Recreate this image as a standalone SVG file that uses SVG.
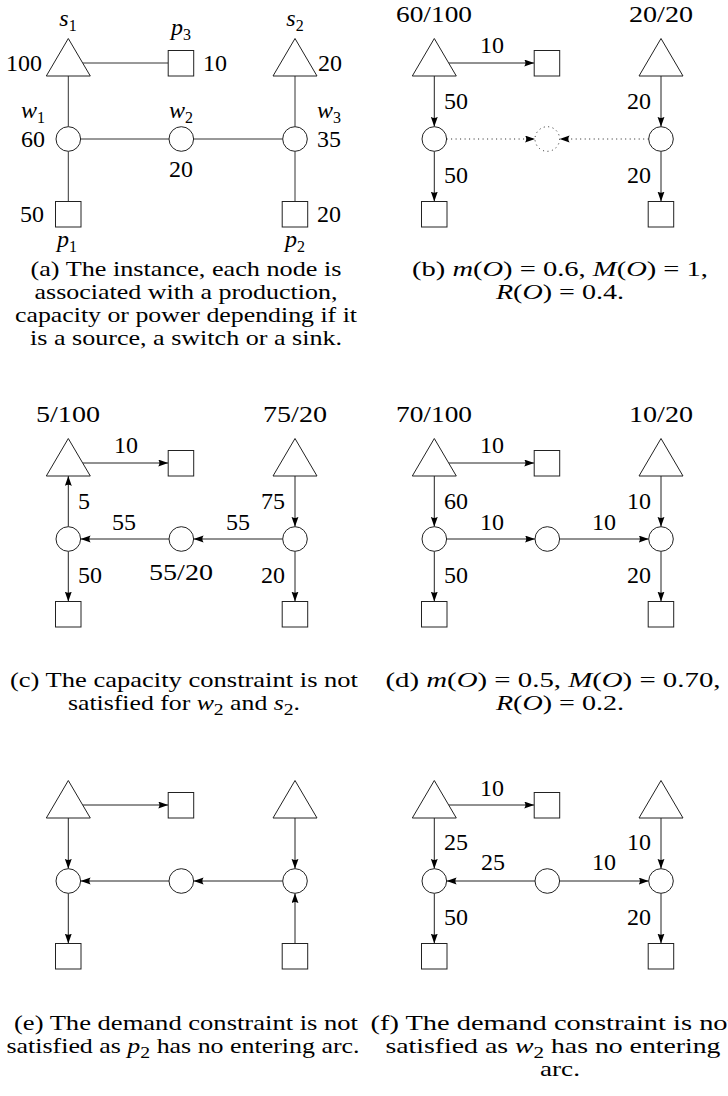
<svg xmlns="http://www.w3.org/2000/svg" width="728" height="1096" viewBox="0 0 728 1096">
<defs>
<marker id="ah" markerUnits="userSpaceOnUse" markerWidth="11" markerHeight="8" refX="10" refY="3.5" orient="auto">
<path d="M0,0 L10,3.5 L0,7 Q2.5,3.5 0,0 z" fill="#000"/>
</marker>
<style>
.n{fill:#fff;stroke:#222;stroke-width:1}
.e{stroke:#333;stroke-width:1;fill:none}
.a{stroke:#222;stroke-width:1;fill:none;marker-end:url(#ah)}
.d{stroke-dasharray:1 3.5}
text{font-family:"Liberation Serif","Times New Roman",serif;fill:#000}
.l{font-size:24px}
.c{font-size:21px;text-anchor:middle}
.m{text-anchor:middle}
.r{text-anchor:end}
.i{font-style:italic}
.s{font-size:16px;font-style:normal}
</style>
</defs>
<rect width="728" height="1096" fill="#fff"/>

<!-- (a) -->
<g id="panel-a">
<g id="a-edges">
<path class="e" d="M82.7,63 H168.2"/>
<path class="e" d="M68.3,76 V126.7"/>
<path class="e" d="M68.3,151.3 V201.5"/>
<path class="e" d="M80.6,139 H169"/>
<path class="e" d="M193.6,139 H282.7"/>
<path class="e" d="M295,76 V126.7"/>
<path class="e" d="M295,151.3 V201.5"/>
</g>
<g id="a-s1"><polygon class="n" points="46.3,76 68.3,38.5 90.3,76"/><text class="l i m" x="68" y="26">s<tspan class="s" dy="5">1</tspan></text><text class="l r" x="42" y="71">100</text></g>
<g id="a-s2"><polygon class="n" points="273,76 295,38.5 317,76"/><text class="l i m" x="295" y="26">s<tspan class="s" dy="5">2</tspan></text><text class="l" x="318" y="71">20</text></g>
<g id="a-p3"><rect class="n" x="168.2" y="50.5" width="25.5" height="25.5"/><text class="l i m" x="181" y="35">p<tspan class="s" dy="5">3</tspan></text><text class="l" x="203" y="71">10</text></g>
<g id="a-w1"><circle class="n" cx="68.3" cy="139" r="12.3"/><text class="l i m" x="33" y="118">w<tspan class="s" dy="5">1</tspan></text><text class="l r" x="45" y="147">60</text></g>
<g id="a-w2"><circle class="n" cx="181.3" cy="139" r="12.3"/><text class="l i m" x="181" y="118">w<tspan class="s" dy="5">2</tspan></text><text class="l m" x="181" y="177">20</text></g>
<g id="a-w3"><circle class="n" cx="295" cy="139" r="12.3"/><text class="l i m" x="329" y="118">w<tspan class="s" dy="5">3</tspan></text><text class="l" x="317" y="147">35</text></g>
<g id="a-p1"><rect class="n" x="55.5" y="201.5" width="25.5" height="25.5"/><text class="l r" x="44" y="222">50</text><text class="l i m" x="67" y="247">p<tspan class="s" dy="5">1</tspan></text></g>
<g id="a-p2"><rect class="n" x="282.2" y="201.5" width="25.5" height="25.5"/><text class="l" x="317" y="222">20</text><text class="l i m" x="295" y="247">p<tspan class="s" dy="5">2</tspan></text></g>
<g id="a-caption">
<text class="c" x="186" y="276" textLength="311" lengthAdjust="spacingAndGlyphs">(a) The instance, each node is</text>
<text class="c" x="186" y="299" textLength="303" lengthAdjust="spacingAndGlyphs">associated with a production,</text>
<text class="c" x="186" y="322" textLength="342" lengthAdjust="spacingAndGlyphs">capacity or power depending if it</text>
<text class="c" x="186" y="345" textLength="312" lengthAdjust="spacingAndGlyphs">is a source, a switch or a sink.</text>
</g>
</g>

<!-- (b) -->
<g id="panel-b" transform="translate(366,0)">
<g id="b-edges">
<path class="a" d="M82.7,63 H168.2"/>
<path class="a" d="M68.3,76 V126.7"/>
<path class="a" d="M68.3,151.3 V201.5"/>
<path class="a d" d="M80.6,139 H169"/>
<path class="a d" d="M282.7,139 H193.6"/>
<path class="a" d="M295,76 V126.7"/>
<path class="a" d="M295,151.3 V201.5"/>
<text class="l m" x="126" y="53">10</text>
<text class="l" x="78" y="109">50</text>
<text class="l" x="78" y="183">50</text>
<text class="l r" x="285" y="109">20</text>
<text class="l r" x="285" y="183">20</text>
</g>
<g id="b-s1"><polygon class="n" points="46.3,76 68.3,38.5 90.3,76"/><text class="l m" x="68" y="21.5" textLength="76" lengthAdjust="spacingAndGlyphs">60/100</text></g>
<g id="b-s2"><polygon class="n" points="273,76 295,38.5 317,76"/><text class="l m" x="295" y="21.5" textLength="64" lengthAdjust="spacingAndGlyphs">20/20</text></g>
<g id="b-p3"><rect class="n" x="168.2" y="50.5" width="25.5" height="25.5"/></g>
<g id="b-w1"><circle class="n" cx="68.3" cy="139" r="12.3"/></g>
<g id="b-w2"><circle class="n d" cx="181.3" cy="139" r="12.3"/></g>
<g id="b-w3"><circle class="n" cx="295" cy="139" r="12.3"/></g>
<g id="b-p1"><rect class="n" x="55.5" y="201.5" width="25.5" height="25.5"/></g>
<g id="b-p2"><rect class="n" x="282.2" y="201.5" width="25.5" height="25.5"/></g>
<g id="b-caption">
<text class="c" x="194" y="276" textLength="296" lengthAdjust="spacingAndGlyphs">(b) <tspan class="i">m</tspan>(<tspan class="i">O</tspan>) = 0.6, <tspan class="i">M</tspan>(<tspan class="i">O</tspan>) = 1,</text>
<text class="c" x="194" y="299" textLength="128" lengthAdjust="spacingAndGlyphs"><tspan class="i">R</tspan>(<tspan class="i">O</tspan>) = 0.4.</text>
</g>
</g>

<!-- (c) -->
<g id="panel-c" transform="translate(0,400)">
<g id="c-edges">
<path class="a" d="M82.7,63 H168.2"/>
<path class="a" d="M68.3,126.7 V76"/>
<path class="a" d="M68.3,151.3 V201.5"/>
<path class="a" d="M169,139 H80.6"/>
<path class="a" d="M282.7,139 H193.6"/>
<path class="a" d="M295,76 V126.7"/>
<path class="a" d="M295,151.3 V201.5"/>
<text class="l m" x="126" y="53">10</text>
<text class="l" x="78" y="109">5</text>
<text class="l r" x="285" y="109">75</text>
<text class="l m" x="124" y="130">55</text>
<text class="l m" x="238" y="130">55</text>
<text class="l" x="78" y="183">50</text>
<text class="l r" x="285" y="183">20</text>
</g>
<g id="c-s1"><polygon class="n" points="46.3,76 68.3,38.5 90.3,76"/><text class="l m" x="68" y="21.5" textLength="64" lengthAdjust="spacingAndGlyphs">5/100</text></g>
<g id="c-s2"><polygon class="n" points="273,76 295,38.5 317,76"/><text class="l m" x="295" y="21.5" textLength="64" lengthAdjust="spacingAndGlyphs">75/20</text></g>
<g id="c-p3"><rect class="n" x="168.2" y="50.5" width="25.5" height="25.5"/></g>
<g id="c-w1"><circle class="n" cx="68.3" cy="139" r="12.3"/></g>
<g id="c-w2"><circle class="n" cx="181.3" cy="139" r="12.3"/><text class="l m" x="181" y="180" textLength="64" lengthAdjust="spacingAndGlyphs">55/20</text></g>
<g id="c-w3"><circle class="n" cx="295" cy="139" r="12.3"/></g>
<g id="c-p1"><rect class="n" x="55.5" y="201.5" width="25.5" height="25.5"/></g>
<g id="c-p2"><rect class="n" x="282.2" y="201.5" width="25.5" height="25.5"/></g>
<g id="c-caption">
<text class="c" x="184" y="287" textLength="348" lengthAdjust="spacingAndGlyphs">(c) The capacity constraint is not</text>
<text class="c" x="184" y="310" textLength="232" lengthAdjust="spacingAndGlyphs">satisfied for <tspan class="i">w</tspan><tspan class="s" dy="5">2</tspan><tspan dy="-5"> and </tspan><tspan class="i">s</tspan><tspan class="s" dy="5">2</tspan><tspan dy="-5">.</tspan></text>
</g>
</g>

<!-- (d) -->
<g id="panel-d" transform="translate(366,400)">
<g id="d-edges">
<path class="a" d="M82.7,63 H168.2"/>
<path class="a" d="M68.3,76 V126.7"/>
<path class="a" d="M68.3,151.3 V201.5"/>
<path class="a" d="M80.6,139 H169"/>
<path class="a" d="M193.6,139 H282.7"/>
<path class="a" d="M295,76 V126.7"/>
<path class="a" d="M295,151.3 V201.5"/>
<text class="l m" x="126" y="53">10</text>
<text class="l" x="78" y="109">60</text>
<text class="l r" x="285" y="109">10</text>
<text class="l m" x="126" y="130">10</text>
<text class="l m" x="238" y="130">10</text>
<text class="l" x="78" y="183">50</text>
<text class="l r" x="285" y="183">20</text>
</g>
<g id="d-s1"><polygon class="n" points="46.3,76 68.3,38.5 90.3,76"/><text class="l m" x="68" y="21.5" textLength="76" lengthAdjust="spacingAndGlyphs">70/100</text></g>
<g id="d-s2"><polygon class="n" points="273,76 295,38.5 317,76"/><text class="l m" x="295" y="21.5" textLength="64" lengthAdjust="spacingAndGlyphs">10/20</text></g>
<g id="d-p3"><rect class="n" x="168.2" y="50.5" width="25.5" height="25.5"/></g>
<g id="d-w1"><circle class="n" cx="68.3" cy="139" r="12.3"/></g>
<g id="d-w2"><circle class="n" cx="181.3" cy="139" r="12.3"/></g>
<g id="d-w3"><circle class="n" cx="295" cy="139" r="12.3"/></g>
<g id="d-p1"><rect class="n" x="55.5" y="201.5" width="25.5" height="25.5"/></g>
<g id="d-p2"><rect class="n" x="282.2" y="201.5" width="25.5" height="25.5"/></g>
<g id="d-caption">
<text class="c" x="187" y="287" textLength="335" lengthAdjust="spacingAndGlyphs">(d) <tspan class="i">m</tspan>(<tspan class="i">O</tspan>) = 0.5, <tspan class="i">M</tspan>(<tspan class="i">O</tspan>) = 0.70,</text>
<text class="c" x="194" y="310" textLength="128" lengthAdjust="spacingAndGlyphs"><tspan class="i">R</tspan>(<tspan class="i">O</tspan>) = 0.2.</text>
</g>
</g>

<!-- (e) -->
<g id="panel-e" transform="translate(0,742)">
<g id="e-edges">
<path class="a" d="M82.7,63 H168.2"/>
<path class="a" d="M68.3,76 V126.7"/>
<path class="a" d="M68.3,151.3 V201.5"/>
<path class="a" d="M169,139 H80.6"/>
<path class="a" d="M282.7,139 H193.6"/>
<path class="a" d="M295,76 V126.7"/>
<path class="a" d="M295,201.5 V151.3"/>
</g>
<g id="e-s1"><polygon class="n" points="46.3,76 68.3,38.5 90.3,76"/></g>
<g id="e-s2"><polygon class="n" points="273,76 295,38.5 317,76"/></g>
<g id="e-p3"><rect class="n" x="168.2" y="50.5" width="25.5" height="25.5"/></g>
<g id="e-w1"><circle class="n" cx="68.3" cy="139" r="12.3"/></g>
<g id="e-w2"><circle class="n" cx="181.3" cy="139" r="12.3"/></g>
<g id="e-w3"><circle class="n" cx="295" cy="139" r="12.3"/></g>
<g id="e-p1"><rect class="n" x="55.5" y="201.5" width="25.5" height="25.5"/></g>
<g id="e-p2"><rect class="n" x="282.2" y="201.5" width="25.5" height="25.5"/></g>
<g id="e-caption">
<text class="c" x="186" y="288" textLength="344" lengthAdjust="spacingAndGlyphs">(e) The demand constraint is not</text>
<text class="c" x="183" y="311" textLength="353" lengthAdjust="spacingAndGlyphs">satisfied as <tspan class="i">p</tspan><tspan class="s" dy="5">2</tspan><tspan dy="-5"> has no entering arc.</tspan></text>
</g>
</g>

<!-- (f) -->
<g id="panel-f" transform="translate(366,742)">
<g id="f-edges">
<path class="a" d="M82.7,63 H168.2"/>
<path class="a" d="M68.3,76 V126.7"/>
<path class="a" d="M68.3,151.3 V201.5"/>
<path class="a" d="M169,139 H80.6"/>
<path class="a" d="M193.6,139 H282.7"/>
<path class="a" d="M295,76 V126.7"/>
<path class="a" d="M295,151.3 V201.5"/>
<text class="l m" x="126" y="54">10</text>
<text class="l" x="78" y="108">25</text>
<text class="l r" x="285" y="108">10</text>
<text class="l m" x="127" y="128">25</text>
<text class="l m" x="238" y="128">10</text>
<text class="l" x="78" y="183">50</text>
<text class="l r" x="285" y="183">20</text>
</g>
<g id="f-s1"><polygon class="n" points="46.3,76 68.3,38.5 90.3,76"/></g>
<g id="f-s2"><polygon class="n" points="273,76 295,38.5 317,76"/></g>
<g id="f-p3"><rect class="n" x="168.2" y="50.5" width="25.5" height="25.5"/></g>
<g id="f-w1"><circle class="n" cx="68.3" cy="139" r="12.3"/></g>
<g id="f-w2"><circle class="n" cx="181.3" cy="139" r="12.3"/></g>
<g id="f-w3"><circle class="n" cx="295" cy="139" r="12.3"/></g>
<g id="f-p1"><rect class="n" x="55.5" y="201.5" width="25.5" height="25.5"/></g>
<g id="f-p2"><rect class="n" x="282.2" y="201.5" width="25.5" height="25.5"/></g>
<g id="f-caption">
<text class="c" x="187" y="288" textLength="365" lengthAdjust="spacingAndGlyphs">(f) The demand constraint is not</text>
<text class="c" x="187" y="311" textLength="335" lengthAdjust="spacingAndGlyphs">satisfied as <tspan class="i">w</tspan><tspan class="s" dy="5">2</tspan><tspan dy="-5"> has no entering</tspan></text>
<text class="c" x="194" y="334" textLength="40" lengthAdjust="spacingAndGlyphs">arc.</text>
</g>
</g>
</svg>
